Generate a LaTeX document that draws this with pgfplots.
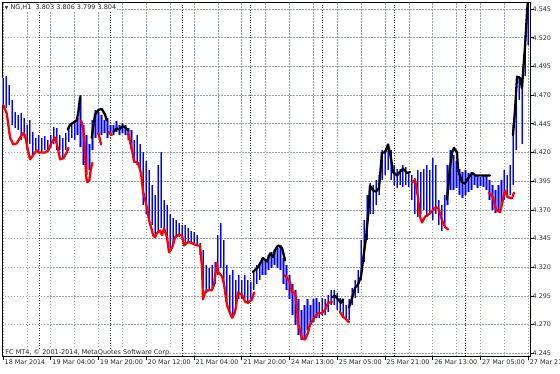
\documentclass[border=0pt]{standalone}
\usepackage{pgfplots}
\pgfplotsset{compat=1.18}
\usepackage{pgfplotstable}
\usepackage{fontspec}
\setmainfont{DejaVu Sans}
\definecolor{barlight}{RGB}{125,125,255}
\definecolor{barcore}{RGB}{0,0,255}
\definecolor{gridc}{RGB}{150,160,175}
\definecolor{txtc}{RGB}{40,40,40}

\pgfplotstableread{
i lo hi
0 4.461 4.485
1 4.459 4.487
2 4.461 4.479
3 4.444 4.466
4 4.441 4.455
5 4.440 4.453
6 4.431 4.454
7 4.433 4.450
8 4.422 4.444
9 4.427 4.448
10 4.418 4.438
11 4.422 4.433
12 4.420 4.435
13 4.420 4.433
14 4.422 4.434
15 4.420 4.431
16 4.424 4.435
17 4.427 4.442
18 4.422 4.441
19 4.422 4.435
20 4.415 4.433
21 4.422 4.437
22 4.429 4.441
23 4.433 4.444
24 4.431 4.447
25 4.435 4.450
26 4.425 4.470
27 4.409 4.444
28 4.400 4.435
29 4.405 4.427
30 4.422 4.448
31 4.433 4.457
32 4.435 4.455
33 4.435 4.453
34 4.437 4.448
35 4.433 4.450
36 4.435 4.444
37 4.435 4.444
38 4.438 4.447
39 4.435 4.444
40 4.437 4.446
41 4.435 4.444
42 4.431 4.441
43 4.422 4.440
44 4.412 4.431
45 4.409 4.435
46 4.405 4.427
47 4.374 4.420
48 4.366 4.413
49 4.361 4.405
50 4.357 4.392
51 4.348 4.383
52 4.352 4.409
53 4.354 4.420
54 4.351 4.379
55 4.346 4.374
56 4.337 4.366
57 4.341 4.363
58 4.346 4.361
59 4.346 4.359
60 4.344 4.357
61 4.339 4.357
62 4.342 4.354
63 4.341 4.352
64 4.339 4.351
65 4.339 4.348
66 4.331 4.341
67 4.292 4.335
68 4.298 4.322
69 4.300 4.319
70 4.302 4.322
71 4.305 4.325
72 4.313 4.348
73 4.319 4.359
74 4.305 4.344
75 4.287 4.322
76 4.281 4.313
77 4.276 4.318
78 4.287 4.309
79 4.292 4.313
80 4.292 4.309
81 4.292 4.313
82 4.289 4.309
83 4.292 4.307
84 4.300 4.318
85 4.305 4.322
86 4.309 4.325
87 4.313 4.328
88 4.313 4.326
89 4.318 4.331
90 4.319 4.333
91 4.322 4.335
92 4.319 4.337
93 4.318 4.339
94 4.305 4.328
95 4.300 4.322
96 4.292 4.313
97 4.278 4.305
98 4.270 4.300
99 4.261 4.292
100 4.257 4.283
101 4.258 4.287
102 4.265 4.292
103 4.270 4.287
104 4.272 4.292
105 4.276 4.293
106 4.276 4.290
107 4.278 4.293
108 4.278 4.292
109 4.281 4.296
110 4.287 4.300
111 4.287 4.300
112 4.283 4.298
113 4.281 4.293
114 4.276 4.292
115 4.274 4.287
116 4.274 4.292
117 4.287 4.302
118 4.293 4.309
119 4.298 4.318
120 4.309 4.344
121 4.325 4.361
122 4.344 4.383
123 4.366 4.393
124 4.366 4.392
125 4.374 4.396
126 4.383 4.400
127 4.396 4.422
128 4.400 4.422
129 4.405 4.427
130 4.396 4.422
131 4.392 4.409
132 4.389 4.406
133 4.392 4.406
134 4.390 4.409
135 4.392 4.407
136 4.390 4.403
137 4.379 4.400
138 4.366 4.398
139 4.364 4.405
140 4.366 4.403
141 4.370 4.406
142 4.364 4.409
143 4.368 4.405
144 4.361 4.415
145 4.366 4.409
146 4.357 4.379
147 4.352 4.374
148 4.354 4.383
149 4.374 4.409
150 4.387 4.422
151 4.387 4.418
152 4.389 4.413
153 4.383 4.406
154 4.380 4.403
155 4.383 4.405
156 4.386 4.402
157 4.387 4.403
158 4.392 4.400
159 4.389 4.400
160 4.391 4.399
161 4.390 4.400
162 4.387 4.400
163 4.379 4.396
164 4.370 4.392
165 4.367 4.387
166 4.368 4.392
167 4.374 4.396
168 4.379 4.405
169 4.380 4.400
170 4.383 4.409
171 4.392 4.444
172 4.422 4.474
173 4.466 4.487
174 4.427 4.479
175 4.487 4.522
176 4.514 4.551
}\bars

\pgfplotstableread{
i p
0.10 4.461
1.24 4.454
2.35 4.433
3.45 4.427
4.59 4.428
5.70 4.433
6.80 4.437
7.37 4.435
8.48 4.420
9.05 4.414
10.15 4.418
11.29 4.422
11.83 4.420
12.97 4.420
14.07 4.420
15.18 4.422
16.32 4.429
17.43 4.433
18.53 4.422
19.10 4.414
20.21 4.415
21.35 4.420
21.88 4.424
nan nan
26.14 4.448
26.90 4.440
27.48 4.422
27.81 4.399
28.25 4.394
28.92 4.396
29.39 4.405
29.92 4.411
nan nan
31.94 4.437
32.84 4.427
nan nan
35.29 4.438
36.43 4.435
nan nan
41.89 4.437
43.23 4.422
43.90 4.412
45.24 4.411
46.24 4.402
46.91 4.386
48.25 4.372
48.92 4.361
49.60 4.355
50.27 4.348
50.94 4.346
51.60 4.350
52.61 4.352
53.28 4.348
53.95 4.354
54.96 4.346
55.63 4.333
56.63 4.337
57.64 4.346
58.64 4.348
59.98 4.348
60.65 4.339
61.99 4.342
63.33 4.341
65.01 4.339
66.01 4.339
66.68 4.320
67.02 4.292
67.69 4.298
68.70 4.300
70.04 4.300
70.71 4.305
71.71 4.324
72.05 4.316
73.39 4.312
74.06 4.305
75.06 4.287
76.07 4.280
76.74 4.276
77.74 4.281
78.75 4.298
80.09 4.296
81.09 4.290
82.10 4.289
83.44 4.292
84.11 4.298
nan nan
94.50 4.313
96.17 4.307
96.84 4.298
97.85 4.298
98.52 4.285
98.85 4.271
99.52 4.265
100.19 4.258
101.20 4.257
102.20 4.263
102.87 4.270
104.55 4.277
105.56 4.280
106.90 4.280
107.91 4.283
108.91 4.289
110.25 4.290
nan nan
112.93 4.281
113.93 4.277
115.27 4.274
115.94 4.272
nan nan
137.06 4.394
138.06 4.396
139.07 4.381
139.74 4.364
140.41 4.359
141.42 4.364
143.09 4.367
144.77 4.372
145.77 4.372
147.11 4.361
148.12 4.355
149.12 4.353
nan nan
162.86 4.385
164.20 4.381
165.21 4.370
166.55 4.368
167.55 4.379
168.22 4.387
169.23 4.381
170.57 4.380
171.24 4.385
}\redline

\pgfplotstableread{
i p
21.68 4.440
22.45 4.444
23.56 4.446
24.70 4.448
25.23 4.455
25.80 4.468
nan nan
29.72 4.433
30.83 4.453
31.94 4.457
33.07 4.458
34.18 4.453
34.75 4.448
nan nan
36.96 4.438
38.10 4.441
38.97 4.440
40.11 4.443
40.88 4.442
41.99 4.439
nan nan
83.78 4.316
85.45 4.320
87.13 4.328
88.47 4.325
89.47 4.332
90.48 4.329
91.15 4.335
92.15 4.339
93.49 4.337
94.50 4.326
nan nan
110.25 4.294
111.25 4.295
112.26 4.292
113.26 4.289
113.93 4.292
nan nan
115.94 4.285
116.95 4.293
117.96 4.302
118.96 4.305
119.97 4.312
120.64 4.326
121.64 4.346
122.31 4.364
122.98 4.391
123.99 4.387
124.99 4.386
126.00 4.389
127.00 4.420
128.01 4.420
129.02 4.427
130.02 4.415
130.69 4.403
132.03 4.400
133.04 4.403
134.04 4.406
135.38 4.402
136.39 4.403
nan nan
148.78 4.379
149.79 4.407
150.46 4.420
151.13 4.424
152.14 4.420
152.47 4.405
153.81 4.394
154.82 4.393
155.49 4.396
156.49 4.400
157.50 4.402
158.17 4.400
163.19 4.400
nan nan
170.90 4.435
171.58 4.457
172.25 4.486
173.25 4.485
173.92 4.476
174.26 4.490
174.93 4.512
175.60 4.542
175.93 4.553
}\blackline

\begin{document}
\begin{tikzpicture}
\useasboundingbox (-2pt,-17pt) rectangle (558pt,356pt);
\begin{axis}[
  at={(0pt,0pt)}, anchor=south west,
  scale only axis, width=528pt, height=354pt,
  xmin=-0.35, xmax=176.6, ymin=4.2427, ymax=4.5511,
  axis line style={black, line width=0.8pt},
  xtick={0,16,...,176},
  xticklabels={18 Mar 2014,19 Mar 04:00,19 Mar 20:00,20 Mar 12:00,21 Mar 04:00,21 Mar 20:00,24 Mar 13:00,25 Mar 05:00,25 Mar 21:00,26 Mar 13:00,27 Mar 05:00,27 Mar 21:00},
  extra x ticks={8,24,...,168},
  extra x tick labels={},
  extra x tick style={major tick length=0pt, grid=major},
  ytick={4.245,4.270,4.295,4.320,4.345,4.370,4.395,4.420,4.445,4.470,4.495,4.520,4.545},
  yticklabel style={/pgf/number format/fixed, /pgf/number format/fixed zerofill, /pgf/number format/precision=3},
  /pgf/number format/assume math mode=true,
  grid=major,
  major grid style={gridc, line width=0.6pt, dash pattern=on 1.5pt off 1.5pt},
  tick align=outside, xtick pos=bottom, ytick pos=right, yticklabel pos=right,
  major tick length=3.5pt,
  tick style={black, line width=0.6pt},
  ticklabel style={font=\fontsize{6.4}{7}\selectfont, text=txtc},
  xticklabel style={anchor=north west, inner sep=0pt, xshift=1.5pt, yshift=0pt},
  yticklabel style={anchor=west, inner sep=0pt, xshift=-1pt},
  unbounded coords=jump,
]
\pgfplotsinvokeforeach{12,36,60,83,107,131,155}{
  \draw[black!80, line width=0.6pt, dash pattern=on 1pt off 1.5pt] (axis cs:#1,4.2427) -- (axis cs:#1,4.5511);
}
\addplot[only marks, mark=*, mark size=0pt, mark options={draw=none, fill=none}, forget plot,
  error bars/.cd, y dir=plus, y explicit, error mark=none,
  error bar style={barlight, line width=2.3pt}]
  table[x=i, y=lo, y error expr=\thisrow{hi}-\thisrow{lo}] {\bars};
\addplot[only marks, mark=*, mark size=0pt, mark options={draw=none, fill=none}, forget plot,
  error bars/.cd, y dir=plus, y explicit, error mark=none,
  error bar style={barcore, line width=0.8pt}]
  table[x=i, y=lo, y error expr=\thisrow{hi}-\thisrow{lo}] {\bars};
\addplot[red, line width=2.3pt, line join=round, line cap=round, mark=none] table[x=i, y=p] {\redline};
\addplot[black, line width=2.3pt, line join=round, line cap=round, mark=none] table[x=i, y=p] {\blackline};
\node[anchor=west, inner sep=0.8pt, fill=white, text=txtc, font=\fontsize{6.5}{7}\selectfont] at ([xshift=2pt, yshift=-5.5pt]rel axis cs:0,1) {{\fontsize{4.5}{5}\selectfont ▼}\ NG,H1\ \ 3.803 3.806 3.799 3.804};
\node[anchor=west, inner sep=0.8pt, fill=white, text=txtc, font=\fontsize{6.5}{7}\selectfont] at ([xshift=2.5pt, yshift=3.5pt]rel axis cs:0,0) {FC MT4, © 2001-2014, MetaQuotes Software Corp.};
\end{axis}
\end{tikzpicture}
\end{document}
